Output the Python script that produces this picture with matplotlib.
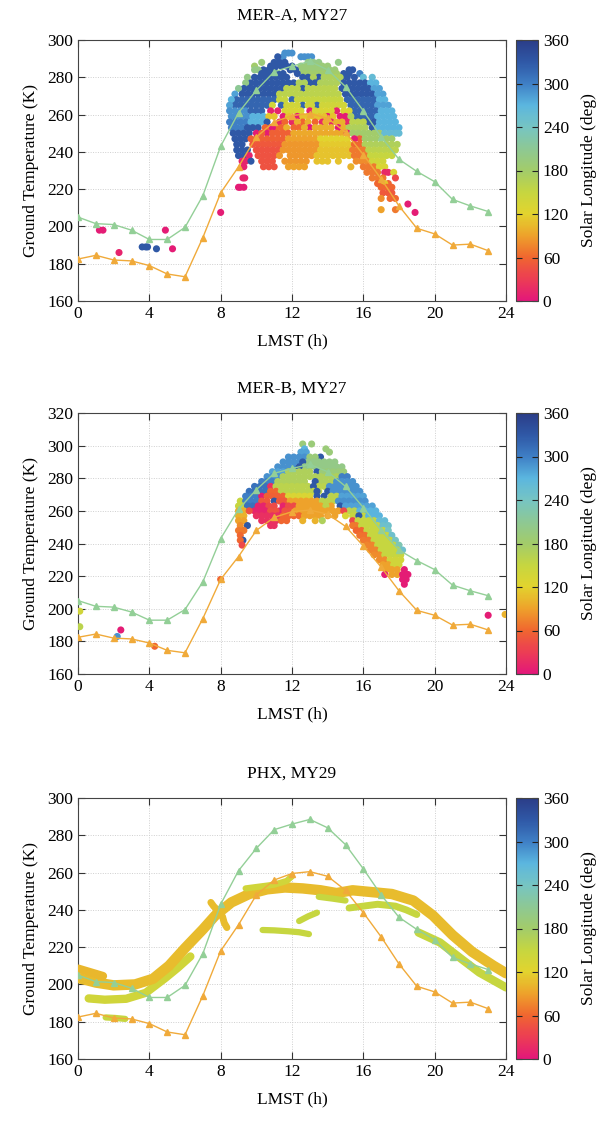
import numpy as np
import matplotlib
matplotlib.use('Agg')
import matplotlib.pyplot as plt
from matplotlib.colors import LinearSegmentedColormap, Normalize
from matplotlib.cm import ScalarMappable

plt.rcParams['font.family'] = ['Liberation Serif', 'DejaVu Serif']

# model curves (same in all three panels), hourly LMST
hours = list(range(24))
model_warm = [205, 201.5, 201, 198, 193, 193, 199.5, 216.5, 243, 261, 273, 283, 286, 288.5,
              284, 275, 262, 248, 236, 229.5, 224, 214.5, 211, 208]
model_cold = [182.5, 184.5, 182, 181.5, 179, 174.5, 173, 194, 218, 232, 248, 256, 259.5, 260.5,
              258, 250.5, 238.5, 225.5, 211, 199, 196, 190, 190.5, 187]

# MER-A observations: (T, Ls, [LMST ...])
mera_rows = [
    (293, 290, [11.6, 11.8, 12.0]),
    (291, 290, [11.5, 12.5, 12.7, 12.9, 13.1]), (291, 330, [11.2]),
    (288, 330, [11.0, 11.3, 11.6]), (288, 200, [12.9, 13.2, 13.5, 14.6]), (288, 190, [10.3]),
    (286, 330, [10.8, 11.1, 11.4, 11.7, 12.0]), (286, 190, [12.5, 12.8, 13.1, 13.4, 13.7, 14.0]), (286, 180, [9.9]),
    (284, 330, [10.4, 10.7, 11.0, 11.9, 12.2, 15.2, 15.4]), (284, 190, [12.6, 12.9, 13.2, 13.5, 13.8, 14.1, 14.4]),
    (284, 200, [9.9, 10.1]),
    (282, 330, [10.3, 10.6, 10.9, 11.2, 11.5, 12.3, 14.9, 15.2]), (282, 180, [12.7, 13.0, 13.3, 13.6, 13.9, 14.2, 14.5]),
    (282, 300, [15.8]),
    (280, 330, [9.9, 10.2, 10.5, 10.8, 11.1, 11.4, 11.7, 12.6, 12.9, 13.5, 14.8, 15.1, 15.5]),
    (280, 170, [13.2, 13.8, 14.1, 14.4, 14.7]), (280, 260, [16.0, 16.5]), (280, 200, [9.5]),
    (277, 330, [9.7, 10.0, 10.3, 10.6, 10.9, 11.2, 11.5, 11.8, 12.1, 13.0, 13.3, 14.9, 15.2, 15.5, 15.8, 16.1]),
    (277, 170, [12.4, 12.7, 13.6, 13.9, 14.2, 14.5]), (277, 270, [16.4, 16.7]), (277, 200, [9.4]),
    (274, 330, [9.3, 9.6, 9.9, 10.2, 10.5, 10.8, 11.1, 11.4, 12.6, 14.8, 15.1, 15.4, 15.7, 16.0, 16.3]),
    (274, 160, [11.7, 12.0, 12.3, 12.9, 13.2, 13.5, 13.8, 14.1, 14.4]), (274, 280, [16.6, 16.9]), (274, 210, [9.0]),
    (271, 330, [9.2, 9.5, 9.8, 10.1, 10.4, 10.7, 11.0, 15.0, 15.3, 15.6, 15.9, 16.2, 16.5]),
    (271, 160, [11.3, 11.6, 11.9, 12.2, 12.5, 12.8, 13.1, 13.4, 13.7, 14.0, 14.3, 14.6]), (271, 280, [8.8, 16.8, 17.1]),
    (268, 320, [8.9, 9.2, 9.5, 9.8, 10.1, 10.4, 10.7, 11.0, 12.0, 15.1, 15.4, 15.7, 16.0, 16.3, 16.6]),
    (268, 150, [11.3, 11.6, 12.3, 12.6, 12.9, 13.2, 13.5, 13.8, 14.1, 14.4, 14.7]), (268, 270, [8.6, 16.9, 17.2]),
    (265, 320, [8.8, 9.1, 9.4, 9.7, 10.0, 10.3, 10.6, 11.4, 12.6, 13.4, 15.3, 15.6, 15.9, 16.2, 16.5]),
    (265, 140, [10.9, 11.7, 12.0, 12.3, 12.9, 13.1, 13.7, 14.0, 14.3, 14.6, 14.9]), (265, 280, [8.5, 16.8, 17.1, 17.4]),
    (262, 290, [8.5, 8.8, 9.1, 9.4]), (262, 320, [9.7, 10.0, 10.3, 15.5, 15.8, 16.1, 16.4, 16.7]),
    (262, 10, [10.8, 11.2, 13.0, 14.5]), (262, 130, [11.6, 11.9, 12.2, 12.5, 13.3, 13.6, 13.9, 14.2, 14.9, 15.2]),
    (262, 270, [17.0, 17.3, 17.6]),
    (259, 290, [8.6, 8.9, 9.2, 9.5]), (259, 270, [9.8, 10.1, 10.4]), (259, 320, [15.6, 15.9, 16.2, 16.5]),
    (259, 5, [11.5, 12.3, 14.0, 14.7, 15.0]), (259, 110, [10.7, 11.0, 11.8, 12.6, 12.9, 13.2, 13.5, 13.8, 14.3]),
    (259, 170, [15.3]), (259, 270, [16.8, 17.1, 17.4, 17.7]),
    (256, 300, [8.5, 8.8, 9.1, 9.4]), (256, 270, [9.7, 10.0, 10.3]), (256, 330, [10.6, 16.3, 16.6]),
    (256, 15, [11.3, 12.0, 13.7, 14.2, 15.1]), (256, 60, [11.6, 12.6, 13.3]), (256, 100, [12.3, 12.9, 13.9, 14.5, 14.8]),
    (256, 160, [15.4, 15.7, 16.0]), (256, 270, [16.9, 17.2, 17.5, 17.8]),
    (253, 300, [8.6, 8.9, 9.2]), (253, 330, [9.5, 9.8, 10.1, 16.5]), (253, 60, [10.5, 10.8, 11.1, 11.4, 12.1, 12.4]),
    (253, 0, [10.9, 13.0, 14.6]), (253, 100, [11.7, 12.7, 13.3, 13.6, 13.9, 14.2, 14.9]),
    (253, 170, [15.2, 15.5, 15.8, 16.1]), (253, 270, [16.8, 17.1, 17.4, 17.7, 18.0]),
    (250, 330, [8.7, 9.0, 9.3, 9.6]), (250, 5, [10.0, 10.6]), (250, 55, [10.3, 10.9, 11.2, 11.5, 11.8]),
    (250, 95, [12.1, 12.4, 12.7, 13.0, 13.3, 13.6, 13.9, 14.2, 14.5, 14.8]), (250, 0, [15.1]),
    (250, 180, [15.4, 15.7, 16.0, 16.3, 16.6, 16.9]), (250, 260, [17.2, 17.5, 17.8, 18.0]),
    (247, 330, [8.8, 9.1, 9.4]), (247, 55, [9.7, 10.0, 10.3, 10.6, 10.9, 11.2, 11.5, 15.8]),
    (247, 90, [11.8, 12.1, 12.4, 12.7, 13.0, 13.3]), (247, 120, [13.6, 13.9, 14.2, 14.5, 14.8, 15.1]),
    (247, 5, [15.5]), (247, 180, [16.1, 16.4, 16.7, 17.0, 17.3, 17.6]),
    (244, 330, [8.9, 9.2]), (244, 50, [9.8, 10.1, 10.4, 10.7, 11.0, 11.3]),
    (244, 85, [11.6, 11.9, 12.2, 12.5, 12.8, 13.1, 13.4]), (244, 115, [13.7, 14.0, 14.3, 14.6, 14.9, 15.2]),
    (244, 60, [15.5, 15.8]), (244, 170, [16.1, 16.4, 16.7, 17.0, 17.3, 17.6, 17.9]),
    (241, 330, [8.9, 9.2, 9.5]), (241, 45, [10.0, 10.3, 10.6, 10.9, 11.2]),
    (241, 85, [11.5, 11.8, 12.1, 12.4, 12.7, 13.0, 13.3]), (241, 110, [13.6, 13.9, 14.2, 14.5, 14.8, 15.1]),
    (241, 70, [15.4, 15.7, 16.0]), (241, 160, [16.3, 16.6, 16.9, 17.2, 17.5, 17.8]),
    (238, 330, [9.0, 9.3]), (238, 10, [9.6]), (238, 45, [10.1, 10.4, 10.7, 11.0]),
    (238, 85, [11.3, 11.9, 12.2, 12.5, 12.8, 13.1]), (238, 110, [13.4, 13.7, 14.0, 14.3, 14.6, 14.9, 15.2]),
    (238, 70, [15.5, 15.8, 16.1]), (238, 150, [16.4, 16.7, 17.0, 17.3, 17.6]),
    (235, 10, [9.2, 9.4]), (235, 330, [9.7]), (235, 45, [10.3, 10.6, 10.9]),
    (235, 85, [11.6, 11.9, 12.2, 12.5, 12.8]), (235, 110, [13.4, 13.7, 14.0, 14.6]),
    (235, 80, [15.6, 15.9, 16.2]), (235, 140, [16.5, 16.8, 17.1]),
    (232, 10, [9.3]), (232, 45, [10.4, 10.7, 11.0]), (232, 90, [11.8, 12.1, 12.4, 12.7]), (232, 100, [15.3]),
    (232, 70, [16.0, 16.3, 16.6]), (232, 130, [16.9, 17.2]),
    (229, 70, [16.2, 16.5, 16.8]), (229, 15, [17.2, 17.4]), (229, 130, [17.7]),
    (226, 10, [9.25, 9.35]), (226, 70, [16.5, 16.8, 17.1]), (226, 40, [17.8]),
    (223, 60, [16.8, 17.1, 17.4]), (223, 110, [17.2]),
    (221, 5, [9.0, 9.1, 9.3]), (221, 60, [17.0, 17.3, 17.6]),
    (218, 50, [17.1, 17.4, 17.6]),
    (215, 80, [17.0]), (215, 60, [17.5, 17.8]),
    (212, 5, [18.5]),
    (209, 90, [17.0]), (209, 70, [17.8]),
    (207.5, 5, [8.0, 18.9]),
    (198, 5, [1.2, 1.4, 4.9]),
    (189, 330, [3.6, 3.8, 3.9]), (188, 330, [4.4]),
    (188, 5, [5.3]), (186, 10, [2.3]),
]

# MER-B observations: (T, Ls, [LMST ...])
merb_rows = [
    (301, 190, [12.6, 13.1]),
    (298, 270, [12.7]), (298, 190, [13.9]),
    (296, 280, [12.5, 12.8]), (296, 190, [14.1]),
    (293, 290, [11.8, 12.1, 12.4, 12.7]), (293, 330, [13.6]), (293, 190, [13.0, 13.3]),
    (290, 290, [11.5, 11.8, 12.1, 12.4]), (290, 200, [12.9, 13.2, 13.5, 13.8, 14.1, 14.4]), (290, 330, [12.6]),
    (287, 290, [11.2, 11.5, 11.8, 12.1]), (287, 200, [12.7, 13.0, 13.3, 13.6, 13.9, 14.2, 14.5, 14.8]), (287, 330, [12.4]),
    (284, 280, [10.9, 11.2, 11.5]), (284, 170, [11.8, 12.1, 12.4, 12.7, 13.0]), (284, 330, [13.4]),
    (284, 190, [13.7, 14.0, 14.3, 14.6, 14.9]),
    (281, 290, [10.6, 10.9, 11.2]), (281, 170, [11.5, 11.8, 12.1, 12.4, 12.7, 13.0, 13.3, 13.6, 13.9, 14.2, 14.5]),
    (281, 300, [14.8, 15.1]),
    (278, 300, [10.3, 10.6, 10.9]), (278, 170, [11.2, 11.5, 11.8, 12.1, 12.4, 12.7, 13.6, 13.9, 14.2]),
    (278, 330, [13.3]), (278, 290, [14.5, 14.8, 15.1, 15.4]),
    (275, 310, [9.9, 10.2, 10.5]), (275, 20, [10.8]), (275, 160, [11.1, 11.4, 11.7, 12.0, 12.3, 12.6, 12.9, 13.5, 13.8]),
    (275, 330, [13.2]), (275, 290, [14.1, 14.4, 14.7, 15.0, 15.3, 15.6]),
    (272, 310, [9.6, 9.9, 10.2, 10.5]), (272, 60, [10.8, 11.1]),
    (272, 160, [11.4, 11.7, 12.0, 12.3, 12.6, 12.9, 13.2, 13.5]), (272, 330, [13.4, 14.0]),
    (272, 290, [14.3, 14.6, 14.9, 15.2, 15.5, 15.8]),
    (269, 300, [9.4, 9.7, 10.0]), (269, 5, [10.3]), (269, 55, [10.6, 10.9, 11.2, 11.5]),
    (269, 130, [11.8, 12.1, 12.4, 12.7, 13.0]), (269, 330, [13.4, 13.8]), (269, 160, [14.2, 14.5]),
    (269, 280, [14.8, 15.1, 15.4, 15.7, 16.0]),
    (266, 150, [9.1]), (266, 300, [9.4, 9.7, 10.0]), (266, 330, [11.0]), (266, 50, [10.3, 10.6, 11.3, 11.6]),
    (266, 90, [11.9, 12.2, 12.5, 12.8, 13.1, 13.4]), (266, 160, [13.7, 14.0, 14.3]),
    (266, 290, [14.6, 14.9, 15.2, 15.5, 15.8, 16.1]),
    (263, 150, [9.0, 9.2]), (263, 310, [9.5, 9.8]), (263, 10, [10.1, 10.4, 11.5]), (263, 40, [10.7, 11.0, 11.8, 12.1]),
    (263, 90, [12.4, 12.7, 13.0, 13.3, 13.6, 14.2]), (263, 160, [13.9]), (263, 330, [14.7]),
    (263, 280, [15.0, 15.3, 15.6, 15.9, 16.2, 16.5]),
    (260, 100, [9.0, 9.3]), (260, 10, [9.9, 10.2, 10.5, 11.3]), (260, 45, [9.6, 10.8, 11.1, 11.6, 11.9]),
    (260, 90, [12.2, 12.5, 12.8, 13.1, 13.4, 13.7, 14.0, 14.3, 14.6]), (260, 160, [15.2, 15.5]),
    (260, 270, [15.8, 16.1, 16.4, 16.7]), (260, 40, [14.9]),
    (257, 100, [9.0, 9.3]), (257, 20, [10.0, 10.3, 10.6, 10.9, 11.2]), (257, 60, [11.5, 11.8, 12.1, 12.4]),
    (257, 90, [12.7, 13.0, 13.3, 13.6, 14.0, 14.4]), (257, 130, [15.0]), (257, 150, [15.4, 15.7, 16.0]),
    (257, 330, [15.75]), (257, 270, [16.3, 16.6, 16.9]),
    (254, 90, [9.0, 9.3]), (254, 20, [10.3, 10.6, 10.9, 11.1]), (254, 60, [11.4, 11.7]), (254, 100, [12.6, 13.3]),
    (254, 170, [13.7]), (254, 40, [15.4]), (254, 150, [15.7, 16.0, 16.3, 16.6]), (254, 260, [16.9, 17.2]),
    (251, 80, [9.1]), (251, 330, [9.5]), (251, 20, [10.8, 11.0]), (251, 70, [15.4, 15.6]),
    (251, 150, [15.9, 16.2, 16.5, 16.8]), (251, 250, [17.1, 17.4]),
    (248, 70, [9.0, 9.3]), (248, 60, [15.6, 15.9]), (248, 150, [16.2, 16.5, 16.8, 17.1]), (248, 240, [17.4]),
    (245, 60, [9.1]), (245, 65, [15.8, 16.1]), (245, 150, [16.4, 16.7, 17.0, 17.3]), (245, 250, [17.6]),
    (242, 330, [9.25]), (242, 60, [9.1]), (242, 70, [16.0, 16.3]), (242, 150, [16.6, 16.9, 17.2, 17.5]),
    (242, 240, [17.8]),
    (239, 40, [9.2]), (239, 75, [16.2, 16.5]), (239, 150, [16.8, 17.1, 17.4, 17.7]), (239, 230, [18.0]),
    (236, 75, [16.4, 16.7]), (236, 150, [17.0, 17.3, 17.6, 17.9]), (236, 250, [18.2]),
    (233, 80, [16.6, 16.9]), (233, 150, [17.2, 17.5, 17.8, 18.1]),
    (230, 80, [16.9, 17.2]), (230, 140, [17.5, 17.8, 18.1]),
    (227, 90, [17.1, 17.4]), (227, 140, [17.7, 18.0]),
    (224, 90, [17.3, 17.6, 17.9]), (224, 5, [18.3]),
    (221, 90, [17.6, 17.9]), (221, 5, [17.2, 18.2, 18.5]),
    (218, 5, [18.2, 18.4]), (218, 60, [8.0]),
    (215, 5, [18.3]),
    (198.5, 140, [0.1]), (189, 160, [0.1]),
    (183, 290, [2.2]), (187, 5, [2.4]), (177, 60, [4.3]),
    (196, 5, [23.0]), (196.5, 100, [23.95]),
]

# PHX observation tracks (LMST, T) and their Ls
phx_main_h = [0.0, 1.0, 2.0, 3.2, 4.2, 5.1, 6.0, 7.0, 7.7, 8.6, 9.6, 10.6, 11.6, 12.6, 13.6, 14.5,
              15.4, 16.5, 17.6, 18.8, 19.9, 21.0, 22.1, 23.3, 24.0]
phx_main_t = [203.5, 201, 199.5, 200, 203, 210, 219.5, 229.5, 237, 244, 248.5, 251, 252, 251.5, 250.5, 249,
              250.5, 249.5, 248.5, 245, 237, 226.5, 217.5, 210, 206]
phx_main_ls = 106
phx_early_h = [0.0, 0.7, 1.4]
phx_early_t = [208.5, 206.5, 204.5]
phx_early_ls = 104
phx_low_h = [0.6, 1.5, 2.7, 3.8, 4.9, 5.6, 6.3]
phx_low_t = [192.5, 191.8, 192.3, 195.5, 203.5, 209, 215]
phx_low_ls = 140
phx_night_h = [1.55, 2.1, 2.65]
phx_night_t = [182.3, 182, 181.5]
phx_night_ls = 150
phx_blob_h = [7.45, 7.6, 7.75]
phx_blob_t = [244, 242, 240.5]
phx_blob2_h = [8.1, 8.2, 8.35]
phx_blob2_t = [236.5, 233, 230.5]
phx_blob_ls = 106
phx_noon_h = [9.4, 10.2, 11.0, 11.7, 12.0]
phx_noon_t = [251.5, 252.5, 253.5, 255.5, 258]
phx_noon_ls = 140
phx_dip_h = [10.35, 11.0, 11.8, 12.4, 12.95]
phx_dip_t = [229.2, 229, 228.5, 228, 227]
phx_rise_h = [12.4, 12.9, 13.4]
phx_rise_t = [234, 236.5, 238.5]
phx_mid_h = [13.5, 14.3, 15.0]
phx_mid_t = [247, 246, 245]
phx_aft_h = [15.2, 16.0, 16.8, 17.8, 18.4, 19.0]
phx_aft_t = [241, 242, 243, 242, 240, 237.5]
phx_eve_h = [19.1, 20.3, 21.4, 22.5, 24.0]
phx_eve_t = [227.8, 222.5, 214.4, 206.4, 198.4]
phx_light_ls = 150

cmap = LinearSegmentedColormap.from_list('ls', [
    (0 / 360, '#e3177a'), (30 / 360, '#ec3d54'), (60 / 360, '#f0672f'), (90 / 360, '#eea12b'),
    (120 / 360, '#e2d42e'), (150 / 360, '#c6d640'), (180 / 360, '#a3cc6a'),
    (210 / 360, '#8dc894'), (240 / 360, '#77c5c2'), (270 / 360, '#5bb6df'), (300 / 360, '#3f80c6'),
    (330 / 360, '#2f58a6'), (360 / 360, '#2b3d88')])
norm = Normalize(0, 360)


def unpack(rows):
    h, t, c = [], [], []
    for temp, ls, hs in rows:
        for x in hs:
            h.append(x)
            t.append(temp)
            c.append(ls)
    return h, t, c


def setup(ax, cax, title, ymax):
    ax.set_xlim(0, 24)
    ax.set_ylim(160, ymax)
    ax.set_xticks(range(0, 25, 4))
    ax.set_yticks(range(160, ymax + 1, 20))
    ax.grid(True, color='#cfcfcf', linestyle=(0, (1, 1.5)), linewidth=0.7)
    ax.set_axisbelow(True)
    ax.tick_params(direction='in', top=True, right=True, length=5, labelsize=12.5, color='#333333')
    for s in ax.spines.values():
        s.set_color('#444444')
    ax.set_xlabel('LMST (h)', fontsize=12.5, labelpad=8)
    ax.set_ylabel('Ground Temperature (K)', fontsize=12.5, labelpad=6)
    ax.set_title(title, fontsize=12.5, pad=15)
    ax.plot(hours, model_warm, '-^', color='#93cf97', lw=1.0, ms=4.5, zorder=4)
    ax.plot(hours, model_cold, '-^', color='#f0aa3a', lw=1.0, ms=4.5, zorder=4)
    cb = plt.colorbar(ScalarMappable(norm=norm, cmap=cmap), cax=cax)
    cb.set_ticks(range(0, 361, 60))
    cb.outline.set_edgecolor('#444444')
    cax.tick_params(direction='in', left=True, right=True, length=4, labelsize=12.5, color='#222222')
    cb.set_label('Solar Longitude (deg)', fontsize=12.5, labelpad=9)


fig = plt.figure(figsize=(6.1, 11.23), dpi=100)
L, W = 78 / 610, 428 / 610
CL, CW = 516 / 610, 22 / 610
tops = [40, 413, 798]
H = 261 / 1123

axes = []
for top in tops:
    b = 1 - (top + 261) / 1123
    ax = fig.add_axes([L, b, W, H])
    cax = fig.add_axes([CL, b, CW, H])
    axes.append((ax, cax))

# MER-A
ax, cax = axes[0]
h, t, c = unpack(mera_rows)
ax.scatter(h, t, c=c, cmap=cmap, norm=norm, s=26, linewidths=0, zorder=3)
setup(ax, cax, 'MER-A, MY27', 300)

# MER-B
ax, cax = axes[1]
h, t, c = unpack(merb_rows)
ax.scatter(h, t, c=c, cmap=cmap, norm=norm, s=26, linewidths=0, zorder=3)
setup(ax, cax, 'MER-B, MY27', 320)

# PHX
ax, cax = axes[2]
tracks = [
    (phx_low_h, phx_low_t, phx_low_ls, 6),
    (phx_night_h, phx_night_t, phx_night_ls, 4.5),
    (phx_dip_h, phx_dip_t, phx_light_ls, 4.5),
    (phx_rise_h, phx_rise_t, phx_light_ls, 4.5),
    (phx_aft_h, phx_aft_t, phx_light_ls, 5),
    (phx_eve_h, phx_eve_t, phx_light_ls, 6),
    (phx_main_h, phx_main_t, phx_main_ls, 7.5),
    (phx_early_h, phx_early_t, phx_early_ls, 6),
    (phx_blob_h, phx_blob_t, phx_blob_ls, 5),
    (phx_blob2_h, phx_blob2_t, phx_blob_ls, 5),
    (phx_noon_h, phx_noon_t, phx_noon_ls, 4.5),
    (phx_mid_h, phx_mid_t, phx_light_ls, 4.5),
]
for th, tt, tls, lw in tracks:
    ax.plot(th, tt, '-', color=cmap(norm(tls)), lw=lw, solid_capstyle='round', zorder=3)
setup(ax, cax, 'PHX, MY29', 300)

fig.savefig('out.png', dpi=100)
